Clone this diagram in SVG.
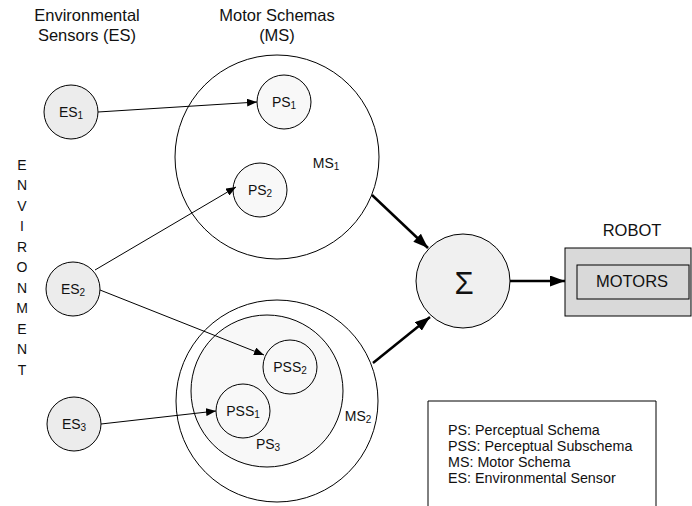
<svg xmlns="http://www.w3.org/2000/svg" width="692" height="506" viewBox="0 0 692 506">
  <style>
    text { font-family: "Liberation Sans", Arial, sans-serif; fill: #111; }
    .title { font-size: 16.5px; text-anchor: middle; }
    .lbl { font-size: 14px; text-anchor: middle; dominant-baseline: central; }
    .sub { font-size: 10px; }
    .legend { font-size: 14.3px; }
    .env { font-size: 14px; text-anchor: middle; }
    .ring { fill: #ffffff; stroke: #000; stroke-width: 1; }
    .es { fill: #ececec; stroke: #000; stroke-width: 1; }
    .ps { fill: #f8f8f8; stroke: #000; stroke-width: 1; }
    .thin { stroke: #000; stroke-width: 1; fill: none; marker-end: url(#head); }
    .thick { stroke: #000; stroke-width: 2.5; fill: none; marker-end: url(#bighead); }
  </style>
  <defs>
    <marker id="head" viewBox="0 0 10 8" refX="10" refY="4" markerWidth="10" markerHeight="8" markerUnits="userSpaceOnUse" orient="auto">
      <path d="M0,0 L10,4 L0,8 Z" fill="#000"/>
    </marker>
    <marker id="bighead" viewBox="0 0 15 11" refX="15" refY="5.5" markerWidth="15" markerHeight="11" markerUnits="userSpaceOnUse" orient="auto">
      <path d="M0,0 L15,5.5 L0,11 Z" fill="#000"/>
    </marker>
  </defs>

  <!-- column headings -->
  <text class="title" x="87" y="21">Environmental</text>
  <text class="title" x="87" y="41">Sensors (ES)</text>
  <text class="title" x="277" y="21">Motor Schemas</text>
  <text class="title" x="277" y="41">(MS)</text>

  <!-- vertical ENVIRONMENT label -->
  <g id="environment">
    <text class="env" x="22" y="170">E</text>
    <text class="env" x="22" y="190">N</text>
    <text class="env" x="22" y="211">V</text>
    <text class="env" x="22" y="231">I</text>
    <text class="env" x="22" y="252">R</text>
    <text class="env" x="22" y="272">O</text>
    <text class="env" x="22" y="293">N</text>
    <text class="env" x="22" y="313">M</text>
    <text class="env" x="22" y="334">E</text>
    <text class="env" x="22" y="354">N</text>
    <text class="env" x="22" y="375">T</text>
  </g>

  <!-- motor schema 1 -->
  <g id="ms1">
    <circle class="ring" cx="277" cy="157" r="102"/>
    <text class="lbl" x="326" y="163">MS<tspan class="sub" dy="3">1</tspan></text>
  </g>

  <!-- motor schema 2 with perceptual schema 3 -->
  <g id="ms2">
    <circle class="ring" cx="277" cy="401" r="101"/>
    <text class="lbl" x="358" y="416">MS<tspan class="sub" dy="3">2</tspan></text>
  </g>
  <g id="ps3">
    <circle class="ps" cx="267" cy="391" r="76"/>
    <text class="lbl" x="268" y="444">PS<tspan class="sub" dy="3">3</tspan></text>
  </g>

  <g id="ps1">
    <circle class="ps" cx="284" cy="102" r="27"/>
    <text class="lbl" x="284" y="102">PS<tspan class="sub" dy="3">1</tspan></text>
  </g>
  <g id="ps2">
    <circle class="ps" cx="260" cy="190" r="27"/>
    <text class="lbl" x="260" y="190">PS<tspan class="sub" dy="3">2</tspan></text>
  </g>
  <g id="pss2">
    <circle class="ps" cx="290" cy="367" r="27"/>
    <text class="lbl" x="290" y="367">PSS<tspan class="sub" dy="3">2</tspan></text>
  </g>
  <g id="pss1">
    <circle class="ps" cx="243" cy="411" r="27"/>
    <text class="lbl" x="243" y="411">PSS<tspan class="sub" dy="3">1</tspan></text>
  </g>

  <!-- environmental sensors -->
  <g id="es1">
    <circle class="es" cx="71" cy="112" r="27"/>
    <text class="lbl" x="71" y="112">ES<tspan class="sub" dy="3">1</tspan></text>
  </g>
  <g id="es2">
    <circle class="es" cx="73" cy="289" r="27"/>
    <text class="lbl" x="73" y="289">ES<tspan class="sub" dy="3">2</tspan></text>
  </g>
  <g id="es3">
    <circle class="es" cx="74" cy="424" r="27"/>
    <text class="lbl" x="74" y="424">ES<tspan class="sub" dy="3">3</tspan></text>
  </g>

  <!-- summation node -->
  <g id="sum">
    <circle cx="463" cy="281" r="47" fill="#f0f0f0" stroke="#000" stroke-width="1"/>
    <text x="464" y="294" font-size="31" text-anchor="middle">Σ</text>
  </g>

  <!-- robot -->
  <g id="robot">
    <text class="title" x="632" y="236">ROBOT</text>
    <rect x="565" y="248" width="126" height="68" fill="#d9d9d9" stroke="#000" stroke-width="1"/>
    <rect x="577" y="265" width="112" height="34" fill="#d9d9d9" stroke="#000" stroke-width="1"/>
    <text class="title" x="632" y="287">MOTORS</text>
  </g>

  <!-- legend -->
  <g id="legend">
    <path d="M428,510 V401 H656 V510" fill="#fff" stroke="#000" stroke-width="1"/>
    <text class="legend" x="448" y="435">PS: Perceptual Schema</text>
    <text class="legend" x="448" y="451">PSS: Perceptual Subschema</text>
    <text class="legend" x="448" y="467">MS: Motor Schema</text>
    <text class="legend" x="448" y="483">ES: Environmental Sensor</text>
  </g>

  <!-- connectors -->
  <g id="connectors">
    <line class="thin" x1="98" y1="112" x2="257" y2="102"/>
    <line class="thin" x1="95" y1="270" x2="236" y2="187"/>
    <line class="thin" x1="100" y1="290" x2="264" y2="355"/>
    <line class="thin" x1="101" y1="424" x2="216" y2="411"/>
    <line class="thick" x1="372" y1="195" x2="428" y2="248"/>
    <line class="thick" x1="373" y1="363" x2="430" y2="317"/>
    <line class="thick" x1="510" y1="281" x2="565" y2="281"/>
  </g>
</svg>
